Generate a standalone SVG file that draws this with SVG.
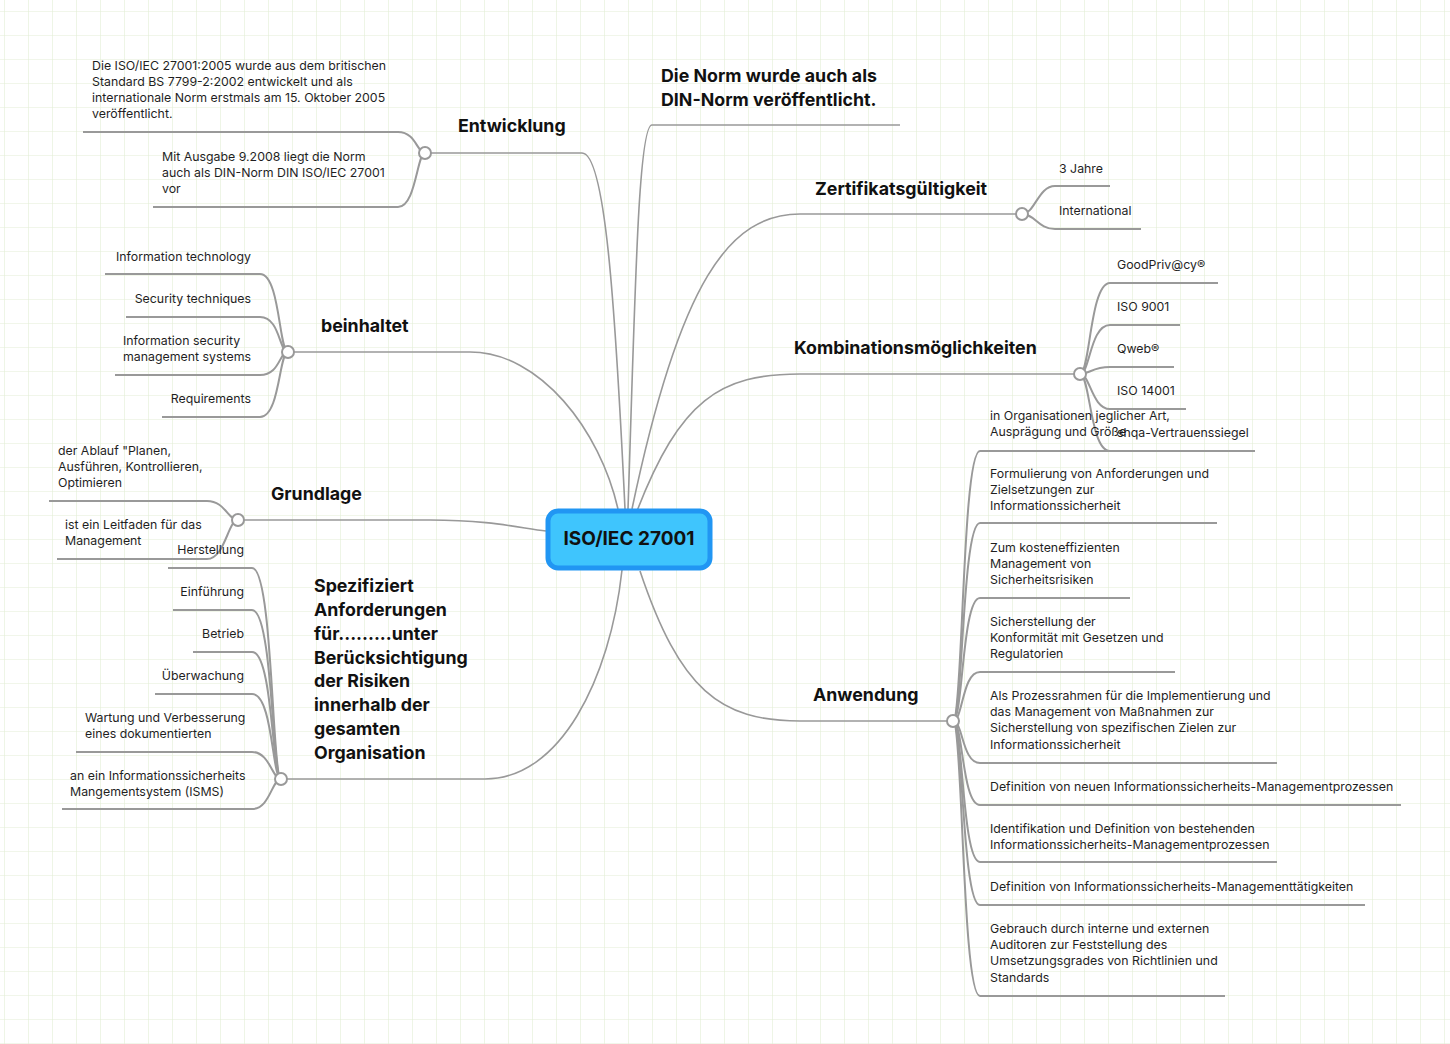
<svg xmlns="http://www.w3.org/2000/svg" width="1450" height="1044" viewBox="0 0 1450 1044">
<defs>
<pattern id="grid" x="4" y="11" width="24" height="24" patternUnits="userSpaceOnUse">
<path d="M0 0 V24 M0 0 H24" fill="none" stroke="#e3eed6" stroke-width="1.2"/>
</pattern>
<style>
.main{fill:none;stroke:#999;stroke-width:1.6}
.sub{fill:none;stroke:#999;stroke-width:2}
.dot{fill:#fff;stroke:#999;stroke-width:2}
.t{font-family:Inter,"Liberation Sans",sans-serif;font-size:12.35px;fill:#1f1f1f}
.tr{font-family:Inter,"Liberation Sans",sans-serif;font-size:12.35px;fill:#1f1f1f;text-anchor:end}
.b{font-family:Inter,"Liberation Sans",sans-serif;font-size:17.8px;font-weight:700;fill:#111}
.c{font-family:Inter,"Liberation Sans",sans-serif;font-size:19px;font-weight:700;fill:#111;text-anchor:middle}
</style>
</defs>
<rect width="1450" height="1044" fill="#fff"/>
<rect width="1450" height="1044" fill="url(#grid)"/>

<g id="connectors">
<path class="main" d="M628 509 C635 300 638 125 652 125 L900 125"/>
<path class="main" d="M632 509 C680 280 730 214 800 214 L1016 214"/>
<path class="main" d="M637 511 C680 400 720 374 800 374 L1074 374"/>
<path class="main" d="M640 571 C680 690 720 721 800 721 L947 721"/>
<path class="main" d="M625 509 C615 300 605 153 582 153 L431 153"/>
<path class="main" d="M618 509 C600 430 540 352 470 352 L294 352"/>
<path class="main" d="M546 531 C520 528 490 520 430 520 L244 520"/>
<path class="main" d="M622 570 C610 680 560 779 485 779 L287 779"/>

<path class="sub" d="M1022 214 C1035 214 1038 186 1055 186 L1110 186"/>
<path class="sub" d="M1022 214 C1035 214 1038 229 1055 229 L1141 229"/>

<path class="sub" d="M1080 374 C1090 374 1090 283 1110 283 L1218 283"/>
<path class="sub" d="M1080 374 C1090 374 1090 325 1110 325 L1180 325"/>
<path class="sub" d="M1080 374 C1090 374 1092 367 1110 367 L1174 367"/>
<path class="sub" d="M1080 374 C1090 374 1092 409 1110 409 L1186 409"/>
<path class="sub" d="M1080 374 C1090 374 1090 451 1110 451 L1255 451"/>

<path class="sub" d="M953 721 C963 721 962 451 980 451 L1177 451"/>
<path class="sub" d="M953 721 C963 721 962 523 980 523 L1217 523"/>
<path class="sub" d="M953 721 C963 721 962 598 980 598 L1130 598"/>
<path class="sub" d="M953 721 C963 721 962 672 980 672 L1175 672"/>
<path class="sub" d="M953 721 C963 721 962 763 980 763 L1277 763"/>
<path class="sub" d="M953 721 C963 721 962 805 980 805 L1401 805"/>
<path class="sub" d="M953 721 C963 721 962 862 980 862 L1277 862"/>
<path class="sub" d="M953 721 C963 721 962 905 980 905 L1365 905"/>
<path class="sub" d="M953 721 C963 721 962 996 980 996 L1225 996"/>

<path class="sub" d="M425 153 C417 153 416 132 398 132 L83 132"/>
<path class="sub" d="M425 153 C417 153 416 207 398 207 L153 207"/>

<path class="sub" d="M288 352 C279 352 280 274 260 274 L105 274"/>
<path class="sub" d="M288 352 C279 352 280 317 260 317 L126 317"/>
<path class="sub" d="M288 352 C279 352 280 375 260 375 L115 375"/>
<path class="sub" d="M288 352 C279 352 280 417 260 417 L162 417"/>

<path class="sub" d="M238 520 C228 520 225 501 207 501 L49 501"/>
<path class="sub" d="M238 520 C228 520 225 559 207 559 L57 559"/>

<path class="sub" d="M281 779 C272 779 273 568 252 568 L168 568"/>
<path class="sub" d="M281 779 C272 779 273 610 252 610 L173 610"/>
<path class="sub" d="M281 779 C272 779 273 652 252 652 L193 652"/>
<path class="sub" d="M281 779 C272 779 273 694 252 694 L155 694"/>
<path class="sub" d="M281 779 C272 779 270 752 252 752 L76 752"/>
<path class="sub" d="M281 779 C272 779 270 809 252 809 L62 809"/>

<circle class="dot" cx="1022" cy="214" r="6"/>
<circle class="dot" cx="1080" cy="374" r="6"/>
<circle class="dot" cx="953" cy="721" r="6"/>
<circle class="dot" cx="425" cy="153" r="6"/>
<circle class="dot" cx="288" cy="352" r="6"/>
<circle class="dot" cx="238" cy="520" r="6"/>
<circle class="dot" cx="281" cy="779" r="6"/>
</g>

<g id="root">
<rect x="548" y="511" width="162" height="57" rx="10" fill="#3fc5fd" stroke="#2196f3" stroke-width="5"/>
<text class="c" x="629" y="545">ISO/IEC 27001</text>
</g>

<g id="norm"><text class="b" x="661" y="82">Die Norm wurde auch als</text><text class="b" x="661" y="106">DIN-Norm veröffentlicht.</text></g>

<g id="zert"><text class="b" x="815" y="195">Zertifikatsgültigkeit</text></g>
<g id="zert-1"><text class="t" x="1059" y="173">3 Jahre</text></g>
<g id="zert-2"><text class="t" x="1059" y="215">International</text></g>

<g id="kombi"><text class="b" x="794" y="354">Kombinationsmöglichkeiten</text></g>
<g id="kombi-1"><text class="t" x="1117" y="269">GoodPriv@cy®</text></g>
<g id="kombi-2"><text class="t" x="1117" y="311">ISO 9001</text></g>
<g id="kombi-3"><text class="t" x="1117" y="353">Qweb®</text></g>
<g id="kombi-4"><text class="t" x="1117" y="395">ISO 14001</text></g>
<g id="kombi-5"><text class="t" x="1117" y="437">shqa-Vertrauenssiegel</text></g>

<g id="anw"><text class="b" x="813" y="701">Anwendung</text></g>
<g id="anw-1"><text class="t" x="990" y="420">in Organisationen jeglicher Art,</text><text class="t" x="990" y="436">Ausprägung und Größe</text></g>
<g id="anw-2"><text class="t" x="990" y="478">Formulierung von Anforderungen und</text><text class="t" x="990" y="494">Zielsetzungen zur</text><text class="t" x="990" y="510">Informationssicherheit</text></g>
<g id="anw-3"><text class="t" x="990" y="552">Zum kosteneffizienten</text><text class="t" x="990" y="568">Management von</text><text class="t" x="990" y="584">Sicherheitsrisiken</text></g>
<g id="anw-4"><text class="t" x="990" y="626">Sicherstellung der</text><text class="t" x="990" y="642">Konformität mit Gesetzen und</text><text class="t" x="990" y="658">Regulatorien</text></g>
<g id="anw-5"><text class="t" x="990" y="700">Als Prozessrahmen für die Implementierung und</text><text class="t" x="990" y="716">das Management von Maßnahmen zur</text><text class="t" x="990" y="732">Sicherstellung von spezifischen Zielen zur</text><text class="t" x="990" y="749">Informationssicherheit</text></g>
<g id="anw-6"><text class="t" x="990" y="791">Definition von neuen Informationssicherheits-Managementprozessen</text></g>
<g id="anw-7"><text class="t" x="990" y="833">Identifikation und Definition von bestehenden</text><text class="t" x="990" y="849">Informationssicherheits-Managementprozessen</text></g>
<g id="anw-8"><text class="t" x="990" y="891">Definition von Informationssicherheits-Managementtätigkeiten</text></g>
<g id="anw-9"><text class="t" x="990" y="933">Gebrauch durch interne und externen</text><text class="t" x="990" y="949">Auditoren zur Feststellung des</text><text class="t" x="990" y="965">Umsetzungsgrades von Richtlinien und</text><text class="t" x="990" y="982">Standards</text></g>

<g id="entw"><text class="b" x="458" y="132">Entwicklung</text></g>
<g id="entw-1"><text class="t" x="92" y="70">Die ISO/IEC 27001:2005 wurde aus dem britischen</text><text class="t" x="92" y="86">Standard BS 7799-2:2002 entwickelt und als</text><text class="t" x="92" y="102">internationale Norm erstmals am 15. Oktober 2005</text><text class="t" x="92" y="118">veröffentlicht.</text></g>
<g id="entw-2"><text class="t" x="162" y="161">Mit Ausgabe 9.2008 liegt die Norm</text><text class="t" x="162" y="177">auch als DIN-Norm DIN ISO/IEC 27001</text><text class="t" x="162" y="193">vor</text></g>

<g id="bein"><text class="b" x="321" y="332">beinhaltet</text></g>
<g id="bein-1"><text class="tr" x="251" y="261">Information technology</text></g>
<g id="bein-2"><text class="tr" x="251" y="303">Security techniques</text></g>
<g id="bein-3"><text class="t" x="123" y="345">Information security</text><text class="t" x="123" y="361">management systems</text></g>
<g id="bein-4"><text class="tr" x="251" y="403">Requirements</text></g>

<g id="grund"><text class="b" x="271" y="500">Grundlage</text></g>
<g id="grund-1"><text class="t" x="58" y="455">der Ablauf "Planen,</text><text class="t" x="58" y="471">Ausführen, Kontrollieren,</text><text class="t" x="58" y="487">Optimieren</text></g>
<g id="grund-2"><text class="t" x="65" y="529">ist ein Leitfaden für das</text><text class="t" x="65" y="545">Management</text></g>

<g id="spez"><text class="b" x="314" y="592">Spezifiziert</text><text class="b" x="314" y="616">Anforderungen</text><text class="b" x="314" y="640">für.........unter</text><text class="b" x="314" y="664">Berücksichtigung</text><text class="b" x="314" y="687">der Risiken</text><text class="b" x="314" y="711">innerhalb der</text><text class="b" x="314" y="735">gesamten</text><text class="b" x="314" y="759">Organisation</text></g>
<g id="spez-1"><text class="tr" x="244" y="554">Herstellung</text></g>
<g id="spez-2"><text class="tr" x="244" y="596">Einführung</text></g>
<g id="spez-3"><text class="tr" x="244" y="638">Betrieb</text></g>
<g id="spez-4"><text class="tr" x="244" y="680">Überwachung</text></g>
<g id="spez-5"><text class="t" x="85" y="722">Wartung und Verbesserung</text><text class="t" x="85" y="738">eines dokumentierten</text></g>
<g id="spez-6"><text class="t" x="70" y="780">an ein Informationssicherheits</text><text class="t" x="70" y="796">Mangementsystem (ISMS)</text></g>
</svg>
